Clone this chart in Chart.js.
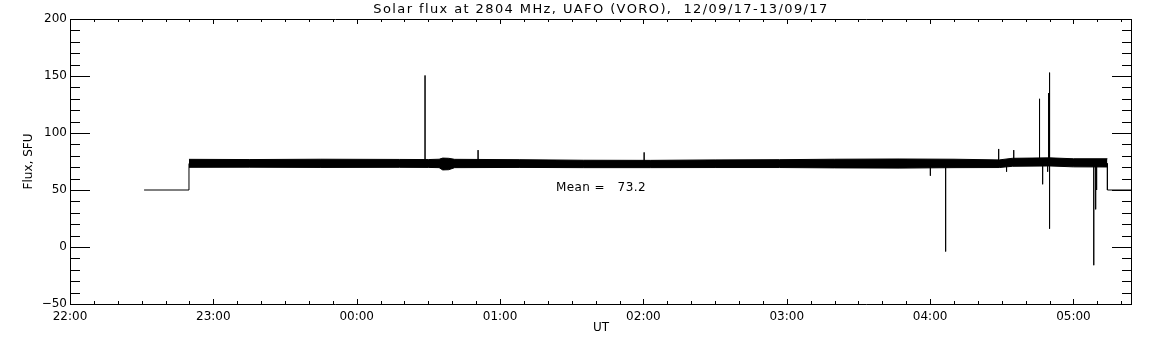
<!DOCTYPE html>
<html lang="en">
    <head>
        <meta charset="UTF-8" />
        <title>Solar flux at 2804 MHz</title>
        <style>
            body, html {
                margin: 0;
                padding: 0;
                background: #fff;
                overflow: hidden;
            }
            #flux-chart {
                display: block;
            }
        </style>
    </head>
    <body>
        <canvas id="flux-chart" width="1152" height="345"></canvas>
    </body>
    <script src="https://cdn.jsdelivr.net/npm/chart.js@4.4.0/dist/chart.umd.min.js"></script>
    <script>
        // time is in minutes after 22:00 UT
        const hourTicks = [0, 60, 120, 180, 240, 300, 360, 420];
        const hourLabels = ["22:00", "23:00", "00:00", "01:00", "02:00", "03:00", "04:00", "05:00"];
        const fluxTicks = [-50, 0, 50, 100, 150, 200];

        // the noisy trace, read as an upper and lower edge
        const bandTime = [49.8, 75, 105, 138, 150, 154.5, 156, 158.5, 161, 188, 215, 243, 270, 297, 320, 347, 370, 389, 394.4, 410, 420, 434.2];
        const bandHigh = [76.9, 76.7, 77.0, 76.8, 76.7, 77.0, 78.0, 77.8, 76.9, 76.6, 76.1, 76.0, 76.4, 76.6, 77.0, 77.2, 77.0, 76.4, 77.8, 78.2, 77.4, 77.4];
        const bandLow = [69.9, 70.0, 69.8, 69.9, 69.8, 69.6, 67.6, 67.8, 69.6, 69.8, 69.6, 69.6, 69.7, 69.7, 69.4, 69.2, 69.6, 69.7, 70.8, 71.1, 70.3, 70.2];

        // flat 50 SFU before and after the record
        const quietTime = [31.0, 49.8, 434.2, 444.5];
        const quietFlux = [50, 50, 50, 50];

        // single-sample spikes
        const spikeTime = [148.6, 170.8, 240.3, 360.1, 366.5, 388.7, 392.0, 395.0, 405.8, 407.1, 409.2, 409.6, 410.0, 410.0, 428.5, 429.3, 429.7];
        const spikeFlux = [150.5, 85, 83, 62.5, -4, 86, 66, 85, 130, 55, 66, 135, 153, 16, -16, 33, 50];

        const meanFlux = 73.2;
        const xMax = 444.5;

        let highPoints = bandTime.map((t, i) => ({ x: t, y: bandHigh[i] }));
        let lowPoints = bandTime.map((t, i) => ({ x: t, y: bandLow[i] }));

        let tracePoints = [
            { x: quietTime[0], y: quietFlux[0] },
            { x: quietTime[1], y: quietFlux[1] },
            { x: quietTime[1], y: meanFlux },
        ];
        spikeTime.forEach((t, i) => {
            tracePoints.push({ x: t, y: meanFlux });
            tracePoints.push({ x: t, y: spikeFlux[i] });
            tracePoints.push({ x: t, y: meanFlux });
        });
        tracePoints.push({ x: quietTime[2], y: meanFlux });
        tracePoints.push({ x: quietTime[2], y: quietFlux[2] });
        tracePoints.push({ x: quietTime[3], y: quietFlux[3] });

        const FONT = '"DejaVu Sans", sans-serif';

        // IDL style box: ticks pointing inward on all four sides, plus text
        const idlFrame = {
            id: "idlFrame",
            afterDraw(chart) {
                const { ctx, chartArea: a, scales } = chart;
                const x = scales.x, y = scales.y;
                ctx.save();
                ctx.strokeStyle = "#000";
                ctx.lineWidth = 1;
                ctx.beginPath();
                ctx.rect(Math.round(a.left) + 0.5, Math.round(a.top) + 0.5,
                    Math.round(a.right - a.left) - 1, Math.round(a.bottom - a.top));
                for (let m = 0; m <= xMax; m += 10) {
                    let px = Math.round(x.getPixelForValue(m)) + 0.5;
                    let len = m % 60 === 0 ? 5 : 3;
                    ctx.moveTo(px, a.bottom);
                    ctx.lineTo(px, a.bottom - len);
                    ctx.moveTo(px, a.top);
                    ctx.lineTo(px, a.top + len);
                }
                for (let v = -50; v <= 200; v += 10) {
                    let py = Math.round(y.getPixelForValue(v)) + 0.5;
                    let len = v % 50 === 0 ? 20 : 10;
                    ctx.moveTo(a.left, py);
                    ctx.lineTo(a.left + len, py);
                    ctx.moveTo(a.right, py);
                    ctx.lineTo(a.right - len, py);
                }
                ctx.stroke();

                ctx.fillStyle = "#000";
                ctx.textBaseline = "middle";
                ctx.textAlign = "center";
                ctx.font = "13px " + FONT;
                ctx.letterSpacing = "1.4px";
                ctx.fillText("Solar flux at 2804 MHz, UAFO (VORO),  12/09/17-13/09/17", (a.left + a.right) / 2, 9.5);
                ctx.font = "12px " + FONT;
                ctx.letterSpacing = "0.4px";
                ctx.textAlign = "left";
                ctx.fillText("Mean =   " + meanFlux.toFixed(1), 556, 188);
                ctx.restore();
            },
        };

        let chart = new Chart(document.getElementById("flux-chart"), {
            type: "line",
            data: {
                datasets: [
                    {
                        label: "upper",
                        data: highPoints,
                        borderColor: "#000",
                        borderWidth: 1,
                        pointRadius: 0,
                        fill: false,
                    },
                    {
                        label: "lower",
                        data: lowPoints,
                        borderColor: "#000",
                        borderWidth: 1,
                        pointRadius: 0,
                        backgroundColor: "#000",
                        fill: "-1",
                    },
                    {
                        label: "Flux",
                        data: tracePoints,
                        borderColor: "#000",
                        borderWidth: 1,
                        pointRadius: 0,
                        fill: false,
                    },
                ],
            },
            options: {
                responsive: false,
                animation: false,
                devicePixelRatio: 1,
                layout: { padding: { top: 19, right: 20, left: 0, bottom: 0 } },
                plugins: {
                    legend: { display: false },
                    tooltip: { enabled: false },
                },
                scales: {
                    x: {
                        type: "linear",
                        min: 0,
                        max: xMax,
                        grid: { display: false, drawTicks: false },
                        border: { display: false },
                        afterBuildTicks: (s) => { s.ticks = hourTicks.map((v) => ({ value: v })); },
                        afterFit: (s) => { s.height = 41; },
                        ticks: {
                            color: "#000",
                            font: { family: FONT, size: 12 },
                            padding: 6,
                            maxRotation: 0,
                            callback: (v, i) => hourLabels[i],
                        },
                        title: {
                            display: true,
                            text: "UT",
                            color: "#000",
                            font: { family: FONT, size: 12 },
                            padding: { top: 0, bottom: 10 },
                        },
                    },
                    y: {
                        min: -50,
                        max: 200,
                        grid: { display: false, drawTicks: false },
                        border: { display: false },
                        afterBuildTicks: (s) => { s.ticks = fluxTicks.map((v) => ({ value: v })); },
                        afterFit: (s) => { s.width = 70; },
                        ticks: {
                            color: "#000",
                            font: { family: FONT, size: 12 },
                            padding: 3,
                            callback: (v) => String(v).replace("-", "\u2212"),
                        },
                        title: {
                            display: true,
                            text: "Flux, SFU",
                            color: "#000",
                            font: { family: FONT, size: 12 },
                            padding: { top: 21.5, bottom: 0 },
                        },
                    },
                },
            },
            plugins: [idlFrame],
        });
    </script>
</html>
